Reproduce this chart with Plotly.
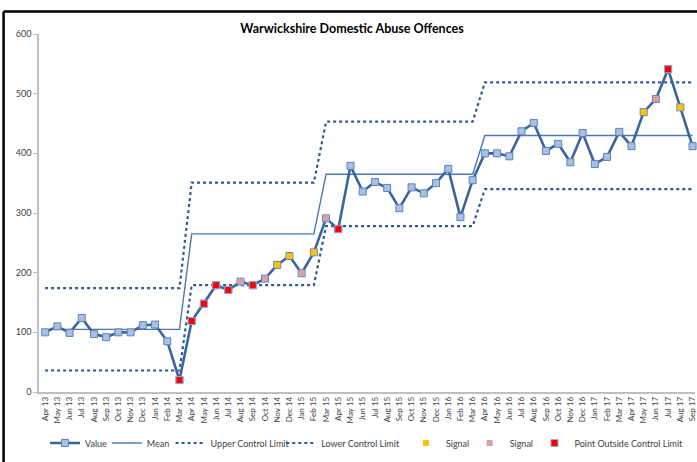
import plotly.graph_objects as go

months = ["Apr 13", "May 13", "Jun 13", "Jul 13", "Aug 13", "Sep 13", "Oct 13", "Nov 13", "Dec 13",
          "Jan 14", "Feb 14", "Mar 14", "Apr 14", "May 14", "Jun 14", "Jul 14", "Aug 14", "Sep 14",
          "Oct 14", "Nov 14", "Dec 14", "Jan 15", "Feb 15", "Mar 15", "Apr 15", "May 15", "Jun 15",
          "Jul 15", "Aug 15", "Sep 15", "Oct 15", "Nov 15", "Dec 15", "Jan 16", "Feb 16", "Mar 16",
          "Apr 16", "May 16", "Jun 16", "Jul 16", "Aug 16", "Sep 16", "Oct 16", "Nov 16", "Dec 16",
          "Jan 17", "Feb 17", "Mar 17", "Apr 17", "May 17", "Jun 17", "Jul 17", "Aug 17", "Sep 17"]

values = [100, 110, 99, 124, 97, 92, 100, 100, 112, 113, 85, 20,
          119, 148, 179, 171, 185, 179, 190, 213, 228, 199, 234,
          291, 273, 379, 336, 352, 342, 308, 343, 333, 350, 374, 293, 355,
          400, 400, 395, 437, 451, 404, 416, 385, 434, 382, 394, 436, 412, 469, 491, 541, 477, 412]

period_lengths = [12, 11, 13, 18]
period_mean = [105, 265, 365, 430]
period_ucl = [174, 351, 453, 519]
period_lcl = [36, 179, 278, 340]

signal_yellow = ["Nov 14", "Dec 14", "Feb 15", "May 17", "Aug 17"]
signal_pink = ["Aug 14", "Oct 14", "Jan 15", "Mar 15", "Jun 17"]
outside_limit = ["Mar 14", "Apr 14", "May 14", "Jun 14", "Jul 14", "Sep 14", "Apr 15", "Jul 17"]


def expand(per):
    out = []
    for v, n in zip(per, period_lengths):
        out += [v] * n
    return out


mean = expand(period_mean)
ucl = expand(period_ucl)
lcl = expand(period_lcl)
lookup = dict(zip(months, values))

fig = go.Figure()
fig.add_trace(go.Scatter(x=months, y=mean, name="Mean", mode="lines", legend="legend2",
                         line=dict(color="#4a78b4", width=1.4)))
fig.add_trace(go.Scatter(x=months, y=ucl, name="Upper Control Limit", mode="lines", legend="legend3",
                         line=dict(color="#2e5a94", width=2.2, dash="dot")))
fig.add_trace(go.Scatter(x=months, y=lcl, name="Lower Control Limit", mode="lines", legend="legend4",
                         line=dict(color="#2e5a94", width=2.2, dash="dot")))
fig.add_trace(go.Scatter(x=months, y=values, name="Value", mode="lines+markers", legend="legend",
                         line=dict(color="#3a64a0", width=2.6),
                         marker=dict(symbol="square", size=7, color="#a9c0e2",
                                     line=dict(color="#5a82bb", width=1)),
                         cliponaxis=False))
fig.add_trace(go.Scatter(x=signal_yellow, y=[lookup[m] for m in signal_yellow], name="Signal",
                         legend="legend5",
                         mode="markers", marker=dict(symbol="square", size=6, color="#ffc000"),
                         cliponaxis=False))
fig.add_trace(go.Scatter(x=signal_pink, y=[lookup[m] for m in signal_pink], name="Signal",
                         legend="legend6",
                         mode="markers", marker=dict(symbol="square", size=6, color="#d9a0a4"),
                         cliponaxis=False))
fig.add_trace(go.Scatter(x=outside_limit, y=[lookup[m] for m in outside_limit],
                         name="Point Outside Control Limit", legend="legend7",
                         mode="markers", marker=dict(symbol="square", size=7, color="#ff0000",
                                                     line=dict(color="#8fa9d0", width=1)),
                         cliponaxis=False))

text_starts = [85, 147, 211, 322, 447, 511, 576]
legend_y = (392 - 443) / 358
legend_common = dict(orientation="h", xanchor="left", y=legend_y, yanchor="middle",
                     font=dict(size=9, color="#404040"), itemwidth=30,
                     bgcolor="rgba(0,0,0,0)")
legends = {}
for i, ts in enumerate(text_starts):
    key = "legend" if i == 0 else f"legend{i + 1}"
    legends[key] = dict(x=(ts - 40 - 39) / 658, **legend_common)

fig.update_layout(
    width=697, height=462,
    margin=dict(l=39, r=0, t=34, b=70),
    paper_bgcolor="white", plot_bgcolor="white",
    font=dict(family="Lato, Liberation Sans, sans-serif", color="#404040", size=9),
    title=dict(text="<b>Warwickshire Domestic Abuse Offences</b>", xref="paper",
               x=(353 - 39) / 658, xanchor="center",
               y=1 - 29 / 462, yanchor="middle", font=dict(size=12.5, color="#000000")),
    showlegend=True,
    xaxis=dict(type="category", range=[-0.5, 53.2], tickangle=-90, showgrid=False,
               showline=True, linecolor="#bfbfbf", linewidth=1.5, ticks="",
               tickfont=dict(size=8), zeroline=False),
    yaxis=dict(range=[0, 600], dtick=100, showgrid=False, showline=True,
               linecolor="#bfbfbf", linewidth=1.5, ticks="outside", ticklen=4,
               tickcolor="#bfbfbf", tickfont=dict(size=9), zeroline=False),
    shapes=[
        dict(type="line", xref="paper", yref="paper", x0=(3.5 - 39) / 658, x1=1.05,
             y0=(392 - 11.5) / 358, y1=(392 - 11.5) / 358, line=dict(color="black", width=2.5)),
        dict(type="line", xref="paper", yref="paper", x0=(3.5 - 39) / 658, x1=(3.5 - 39) / 658,
             y0=(392 - 11.5) / 358, y1=-0.3, line=dict(color="black", width=2.5)),
    ],
    **legends,
)

fig.write_html("out.html", config={"displayModeBar": False},
               post_script="document.body.style.margin='0px';")
